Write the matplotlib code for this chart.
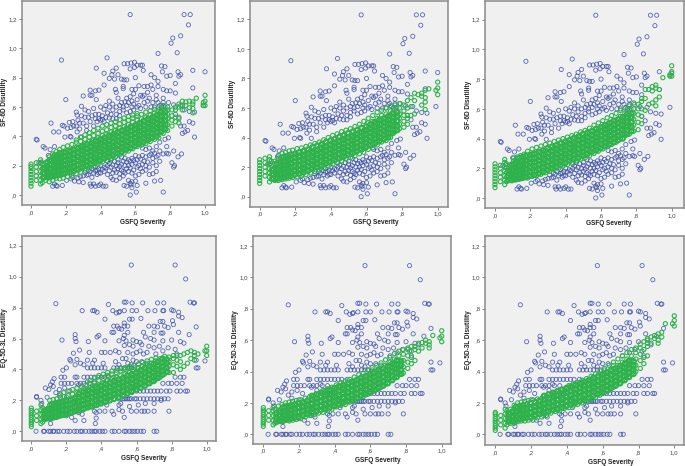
import matplotlib
matplotlib.use("Agg")
import matplotlib.pyplot as plt

plt.rcParams['font.family'] = ['Liberation Sans', 'DejaVu Sans']

W, H = 685, 466
BLUE = '#3d50a8'
GREEN = '#2fb24c'
TICK_X = [0, .2, .4, .6, .8, 1.0]
TICK_X_LABELS = [',0', ',2', ',4', ',6', ',8', '1,0']
TICK_Y = [0, .2, .4, .6, .8, 1.0, 1.2]
TICK_Y_LABELS = [',0', ',2', ',4', ',6', ',8', '1,0', '1,2']

sf6d_observed = [
    (.57,1.23),(.88,1.23),(.915,1.23),(.905,1.16),(.86,1.085),(.815,1.07),(.805,1.035),(.84,.97),(.73,.965),
    (.437,.935),(.175,.92),(.375,.865),(.93,.85),(1.0,.84),(.535,.895),(.555,.895),(.575,.90),(.595,.905),
    (.61,.885),(.63,.885),(.64,.885),(.57,.86),(.595,.87),(.645,.85),(.42,.83),(.47,.845),(.49,.865),(.465,.82),
    (.50,.82),(.48,.79),(.52,.79),(.535,.785),(.55,.785),(.45,.795),(.60,.80),(.69,.82),(.75,.88),(.77,.875),
    (.755,.84),(.73,.775),(.78,.81),(.80,.815),(.845,.84),(.86,.82),(.83,.76),(.85,.81),(.71,.80),(.69,.75),
    (.73,.74),(.67,.74),(.65,.74),(.62,.745),(.76,.72),(.78,.71),(.80,.71),(.83,.695),(.93,.73),(.34,.715),
    (.37,.71),(.39,.715),(.35,.68),(.375,.65),(.42,.75),(.485,.72),(.49,.70),(.53,.725),(.53,.74),(.58,.72),
    (.60,.72),(.59,.69),(.63,.68),(.65,.68),(.67,.70),(.70,.72),(.72,.68),(.76,.66),(.79,.63),(.82,.615),
    (.86,.61),(.88,.58),(.91,.57),(.94,.565),(.99,.61),(.93,.49),(.94,.395),(.86,.47),(.88,.47),(.885,.43),
    (.87,.42),(.90,.44),(.91,.50),(.83,.55),(.85,.52),(.34,.68),(.30,.675),(.20,.65),(.29,.605),(.26,.565),
    (.265,.545),(.31,.58),(.33,.57),(.36,.59),(.40,.60),(.42,.585),(.45,.60),(.47,.58),(.50,.66),(.52,.63),
    (.54,.635),(.56,.63),(.55,.61),(.58,.64),(.61,.65),(.62,.61),(.64,.67),(.66,.60),(.68,.66),(.70,.63),
    (.72,.65),(.74,.61),(.76,.63),(.77,.60),(.58,.60),(.51,.57),(.53,.58),(.49,.55),(.46,.55),(.44,.56),
    (.41,.54),(.39,.55),(.37,.55),(.35,.54),(.33,.53),(.31,.53),(.29,.54),(.27,.51),(.24,.50),(.23,.46),
    (.22,.495),(.21,.455),(.245,.47),(.28,.49),(.30,.49),(.32,.47),(.34,.50),(.36,.47),(.38,.50),(.40,.51),
    (.42,.50),(.19,.47),(.18,.475),(.115,.49),(.16,.43),(.13,.43),(.195,.395),(.225,.40),(.23,.395),(.265,.43),
    (.29,.395),(.32,.44),(.28,.45),(.26,.47),(.03,.38),(.035,.375),(.07,.33),(.08,.32),(.11,.31),(.135,.33),
    (.10,.27),(.045,.22),(.06,.225),(.125,.06),(.145,.065),(.18,.065),(.15,.06),(.095,.22),(.10,.145),(.135,.075),
    (.205,.10),(.23,.11),(.25,.095),(.27,.115),(.275,.09),(.24,.12),(.285,.125),(.30,.13),(.32,.135),(.30,.085),
    (.34,.075),(.36,.075),(.345,.06),(.40,.075),(.39,.065),(.415,.06),(.43,.06),(.37,.06),(.35,.12),(.38,.14),
    (.40,.15),(.38,.17),(.36,.15),(.34,.16),(.42,.16),(.44,.14),(.46,.12),(.47,.105),(.49,.10),(.51,.115),
    (.53,.13),(.55,.06),(.535,.065),(.57,.08),(.58,.09),(.60,.095),(.56,.10),(.575,.07),(.61,.065),(.58,.05),
    (.57,.0),(.605,.02),(.66,.08),(.71,.095),(.745,.10),(.76,.02),(.72,.16),(.70,.145),(.68,.14),(.66,.17),
    (.64,.16),(.62,.14),(.60,.13),(.58,.15),(.56,.16),(.54,.15),(.52,.17),(.50,.18),(.48,.17),(.46,.19),
    (.44,.20),(.42,.19),(.40,.20),(.39,.18),(.37,.19),(.35,.18),(.33,.17),(.50,.22),(.52,.21),(.54,.20),
    (.56,.20),(.58,.21),(.60,.22),(.62,.20),(.64,.21),(.66,.20),(.68,.19),(.70,.22),(.72,.20),(.74,.23),
    (.78,.285),(.79,.28),(.81,.22),(.82,.19),(.825,.20),(.845,.26),(.865,.28),(.82,.30),(.78,.33),(.77,.38),
    (.79,.39),(.74,.36),(.72,.33),(.70,.30),(.68,.27),(.66,.26),(.64,.27),(.62,.26),(.60,.27),(.58,.25),
    (.56,.24),(.54,.25),(.52,.26),(.50,.24),(.48,.23),(.46,.24),(.44,.23),(.76,.28),(.74,.30),(.72,.26),
    (.70,.25),(.68,.32),(.66,.31),(.64,.32),(.31,.155),(.33,.14),(.37,.165),(.39,.15),(.41,.175),(.43,.185),
    (.45,.165),(.47,.15),(.49,.155),(.51,.145),(.53,.16),(.55,.18),(.57,.185),(.59,.17),(.61,.19),(.63,.18),
    (.65,.23),(.67,.225),(.69,.28),(.71,.285),(.73,.27),(.55,.225),(.57,.23),(.59,.235),(.61,.24),(.63,.245),
    (.45,.215),(.47,.205),(.49,.20),(.51,.195),(.53,.23),(.43,.61),(.45,.64),(.47,.62),(.49,.60),(.51,.61),
    (.53,.60),(.55,.66),(.57,.67),(.59,.62),(.61,.60),(.63,.59),(.65,.63),(.67,.64),(.69,.60),(.71,.60),
    (.73,.63),(.75,.60),(.57,.57),(.59,.58),(.55,.56),(.37,.52),(.39,.52),(.41,.515),(.43,.53),(.45,.525),
    (.47,.52),(.49,.52),(.51,.54),
]

# observed EQ-5D-3L disutility, its levels show as rows (y, [x, ...])
eq5d_rows = [
    (0.0, [.027,.07,.075,.10,.11,.125,.13,.15,.16,.185,.205,.22,.245,.26,.28,.29,.31,.33,.345,.36,.37,.39,.405,.42,
           .46,.475,.50,.53,.54,.56,.575,.59,.605,.625,.64,.70,.715]),
    (.13, [.63,.645,.665,.70,.785,.57,.60]),
    (.21, [.47,.50,.52,.53,.54,.55,.56,.57,.59,.60,.62,.64,.66,.68,.70,.72,.74,.76,.78,.44,.42]),
    (.26, [.33,.36,.38,.40,.57,.60,.62,.64,.66,.68,.70,.72,.74,.77,.79,.83,.85,.88,.89]),
    (.31, [.17,.19,.21,.23,.26,.28,.30,.33,.36,.75,.78,.80,.83,.86]),
    (.35, [.17,.19,.25,.26,.30,.32,.34,.36,.38,.40,.42,.44,.47,.82,.85,.87]),
    (.41, [.20,.32,.34,.36,.38,.40,.42,.47,.49,.51,.53,.55,.57,.59,.61,.94,.95]),
]
eq5d_observed = [
    (.57,1.075),(.82,1.075),(.88,.985),(.14,.825),(.44,.82),(.53,.835),(.54,.835),(.575,.83),(.635,.83),(.72,.83),
    (.755,.83),(.905,.835),(.925,.83),(.93,.83),(.29,.78),(.35,.78),(.36,.78),(.375,.77),(.465,.78),(.485,.765),
    (.50,.77),(.505,.775),(.53,.78),(.60,.78),(.575,.78),(.665,.78),(.705,.78),(.75,.78),(.755,.78),(.80,.785),
    (.81,.78),(.84,.77),(.84,.745),(.86,.735),(.42,.725),(.56,.725),(.575,.725),(.53,.70),(.625,.73),(.805,.715),
    (.735,.71),(.75,.71),(.81,.69),(.67,.68),(.70,.68),(.72,.675),(.76,.68),(.78,.67),(.94,.675),(.47,.68),
    (.49,.68),(.50,.665),(.53,.68),(.55,.68),(.515,.66),(.46,.64),(.47,.64),(.53,.62),(.55,.64),(.64,.64),
    (.70,.64),(.74,.635),(.75,.635),(.84,.64),(.90,.625),(.25,.625),(.25,.60),(.255,.58),(.175,.59),(.325,.58),
    (.375,.61),(.385,.62),(.42,.585),(.50,.585),(.525,.60),(.54,.585),(.58,.59),(.60,.58),(.62,.575),(.65,.61),
    (.68,.60),(.70,.59),(.75,.585),(.80,.59),(.85,.58),(.87,.57),(.56,.56),(.58,.55),(.53,.555),(.63,.56),
    (.67,.55),(.70,.54),(.73,.55),(.78,.54),(.82,.53),(.275,.525),(.24,.505),(.33,.51),(.40,.51),(.42,.51),
    (.45,.51),(.48,.52),(.50,.51),(.55,.51),(.58,.50),(.60,.51),(.62,.52),(.64,.50),(.66,.51),(.71,.50),
    (.75,.52),(.83,.50),(.22,.465),(.225,.455),(.26,.465),(.32,.46),(.36,.46),(.48,.45),(.52,.47),(.54,.47),
    (.58,.46),(.60,.45),(.63,.45),(.66,.44),(.94,.46),(.99,.455),(.30,.43),(.25,.43),(.28,.44),(.35,.44),
    (.41,.44),(.50,.43),(.55,.44),(.57,.43),(.18,.395),(.13,.34),(.12,.32),(.11,.30),(.08,.28),(.10,.27),
    (.125,.29),(.03,.225),(.055,.20),(.06,.18),(.03,.22),(.09,.22),(.14,.25),(.16,.27),(.19,.28),(.22,.26),
    (.27,.30),(.30,.28),(.32,.32),(.16,.23),(.20,.22),(.24,.19),(.27,.12),(.29,.11),(.26,.14),(.28,.16),
    (.23,.09),(.25,.07),(.30,.07),(.36,.13),(.37,.12),(.37,.085),(.365,.05),(.39,.13),(.42,.13),(.46,.13),
    (.47,.11),(.50,.14),(.52,.13),(.53,.09),(.08,.09),(.11,.05),(.11,.08),(.16,.11),(.20,.10),(.34,.16),
    (.43,.17),(.50,.17),(.51,.18),(.56,.16),(.61,.17),(.65,.18),(.70,.18),(.74,.20),
]

# predicted values, one row per severity value (x, [y, ...])
green_sf_1 = [
    (0.0,[.06,.08,.10,.12,.14,.16,.18,.195,.21]),(.03,[.10,.13,.16,.19,.22]),(.055,[.075,.10,.13,.16,.19,.22,.24]),
    (.065,[.085,.12,.15,.18,.21]),(.085,[.10,.13,.16,.19,.22]),(.105,[.09,.12,.15,.18,.21,.24,.26]),
    (.125,[.10,.13,.16,.19,.22,.25,.28]),(.145,[.115,.145,.175,.205,.235,.265,.295]),(.165,[.11,.14,.17,.20,.23,.26,.29,.31]),
    (.185,[.115,.145,.175,.205,.235,.265,.295,.325]),(.21,[.125,.155,.185,.215,.245,.275,.305,.335]),
    (.235,[.13,.16,.19,.22,.25,.28,.31,.345]),(.26,[.145,.175,.205,.235,.265,.295,.325,.36,.375]),
    (.285,[.155,.185,.215,.245,.275,.305,.335,.365,.395]),(.31,[.17,.20,.23,.26,.29,.32,.35,.38,.41]),
    (.335,[.185,.215,.245,.275,.305,.335,.365,.395,.425]),(.36,[.195,.225,.255,.285,.315,.345,.375,.405,.44]),
    (.385,[.21,.24,.27,.30,.33,.36,.39,.42,.455]),(.41,[.225,.255,.285,.315,.345,.375,.405,.435,.47]),
    (.435,[.235,.265,.295,.325,.355,.385,.415,.445,.48]),(.46,[.25,.28,.31,.34,.37,.40,.43,.46,.49]),
    (.485,[.26,.29,.32,.35,.38,.41,.44,.47,.50]),(.51,[.275,.305,.335,.365,.395,.425,.455,.485,.515]),
    (.535,[.285,.315,.345,.375,.405,.435,.465,.495,.525]),(.56,[.30,.33,.36,.39,.42,.45,.48,.51,.535]),
    (.585,[.315,.345,.375,.405,.435,.465,.495,.525,.545]),(.61,[.33,.36,.39,.42,.45,.48,.51,.54,.555]),
    (.635,[.34,.37,.40,.43,.46,.49,.52,.55]),(.66,[.35,.38,.41,.44,.47,.50,.53,.565]),
    (.685,[.365,.395,.425,.455,.485,.515,.545,.575]),(.71,[.38,.41,.44,.47,.50,.53,.56,.585]),
    (.735,[.39,.42,.45,.48,.51,.54,.57,.60]),(.76,[.42,.46,.49,.52,.55,.58,.61]),(.785,[.44,.48,.52,.55,.58,.60]),
    (.81,[.47,.51,.54,.58]),(.83,[.50,.53,.58,.60]),(.85,[.49,.53,.60,.62]),(.87,[.58,.61,.64]),(.89,[.61,.635]),
    (.91,[.595,.64]),(.93,[.56,.59,.62,.635]),(.95,[.66]),(.99,[.61,.63]),(1.0,[.61,.64,.68]),
]
green_sf_2 = [
    (0.0,[.09,.11,.13,.15,.17,.19,.21,.23,.25]),(.03,[.14,.17,.20,.23,.26]),(.055,[.10,.13,.16,.19,.22,.25,.27]),
    (.065,[.12,.15,.18,.21,.24]),(.085,[.11,.14,.17,.20,.24]),(.105,[.11,.14,.17,.20,.23,.26,.28]),
    (.125,[.115,.145,.175,.205,.235,.265,.295]),(.145,[.12,.15,.18,.21,.24,.27,.30]),(.165,[.125,.155,.185,.215,.245,.275,.31]),
    (.185,[.13,.16,.19,.22,.25,.28,.315]),(.21,[.135,.165,.195,.225,.255,.285,.325]),
    (.235,[.14,.17,.20,.23,.26,.29,.33]),(.26,[.15,.18,.21,.24,.27,.30,.34]),
    (.285,[.16,.19,.22,.25,.28,.31,.35]),(.31,[.17,.20,.23,.26,.29,.32,.36]),
    (.335,[.18,.21,.24,.27,.30,.33,.37]),(.36,[.195,.225,.255,.285,.315,.345,.385]),
    (.385,[.205,.235,.265,.295,.325,.355,.40]),(.41,[.22,.25,.28,.31,.34,.37,.415]),
    (.435,[.23,.26,.29,.32,.35,.38,.425]),(.46,[.24,.27,.30,.33,.36,.39,.44]),
    (.485,[.255,.285,.315,.345,.375,.405,.45]),(.51,[.265,.295,.325,.355,.385,.415,.46]),
    (.535,[.275,.305,.335,.365,.395,.425,.475]),(.56,[.29,.32,.35,.38,.41,.44,.49]),
    (.585,[.30,.33,.36,.39,.42,.45,.51]),(.61,[.32,.35,.38,.41,.44,.47,.50,.53]),
    (.635,[.33,.36,.39,.42,.45,.48,.51,.55]),(.66,[.35,.38,.41,.44,.47,.50,.53,.57]),
    (.685,[.37,.40,.43,.46,.49,.52,.55,.585]),(.71,[.38,.41,.44,.47,.50,.53,.56,.60]),
    (.735,[.40,.43,.46,.49,.52,.55,.58,.615]),(.76,[.44,.47,.50,.53,.56,.59,.62]),(.785,[.46,.49,.53,.56,.60,.63]),
    (.81,[.47,.51,.55,.58,.62]),(.83,[.49,.53,.55,.60,.65]),(.85,[.55,.61,.67]),(.87,[.56,.65,.70]),(.89,[.69]),
    (.91,[.62,.68,.70]),(.93,[.59,.64,.67,.72]),(.95,[.73]),(.99,[.72]),(1.0,[.69,.735,.775]),
]
green_sf_3 = [
    (0.0,[.07,.09,.11,.13,.15,.17,.19,.21,.23]),(.03,[.11,.14,.17,.20,.22]),(.055,[.09,.12,.15,.18,.21,.24,.26]),
    (.065,[.11,.14,.17,.20,.23]),(.085,[.13,.16,.19,.22]),(.105,[.13,.16,.19,.22,.25,.27]),
    (.125,[.125,.155,.185,.215,.245,.275]),(.145,[.13,.16,.19,.22,.25,.285]),(.165,[.14,.17,.20,.23,.26,.295]),
    (.185,[.135,.165,.195,.225,.255,.285,.315]),(.21,[.145,.175,.205,.235,.265,.295,.33]),
    (.235,[.15,.18,.21,.24,.27,.30,.34]),(.26,[.16,.19,.22,.25,.28,.31,.35]),
    (.285,[.17,.20,.23,.26,.29,.32,.36]),(.31,[.18,.21,.24,.27,.30,.33,.37]),
    (.335,[.19,.22,.25,.28,.31,.34,.38]),(.36,[.20,.23,.26,.29,.32,.35,.39]),
    (.385,[.215,.245,.275,.305,.335,.365,.40]),(.41,[.225,.255,.285,.315,.345,.375,.41]),
    (.435,[.235,.265,.295,.325,.355,.385,.42]),(.46,[.25,.28,.31,.34,.37,.40,.43]),
    (.485,[.26,.29,.32,.35,.38,.41,.445]),(.51,[.27,.30,.33,.36,.39,.42,.455]),
    (.535,[.285,.315,.345,.375,.405,.435,.47]),(.56,[.30,.33,.36,.39,.42,.45,.49]),
    (.585,[.315,.345,.375,.405,.435,.465,.505]),(.61,[.33,.36,.39,.42,.45,.48,.52]),
    (.635,[.345,.375,.405,.435,.465,.495,.54]),(.66,[.36,.39,.42,.45,.48,.51,.555]),
    (.685,[.375,.405,.435,.465,.495,.525,.57]),(.71,[.40,.43,.46,.49,.52,.55,.59]),
    (.735,[.42,.45,.48,.51,.54,.57,.605]),(.76,[.43,.47,.50,.53,.56,.59,.62]),(.785,[.45,.49,.53,.57,.60,.64]),
    (.81,[.46,.51,.56,.60,.63]),(.83,[.50,.55,.60,.65,.67]),(.85,[.59,.67,.73]),(.87,[.63,.73]),(.89,[.64,.72,.75]),
    (.91,[.62,.66,.74,.76]),(.93,[.68,.73]),(.95,[.81]),(.99,[.82,.83]),(1.0,[.82,.85,.89]),
]
green_eq_1 = [
    (0.0,[.03,.045,.06,.075,.09,.105,.12,.135,.15]),(.03,[.07,.10,.13]),(.055,[.05,.08,.11,.14,.17]),
    (.065,[.06,.09,.12,.15]),(.085,[.08,.11,.14]),(.105,[.08,.11,.14,.17,.20]),
    (.125,[.085,.115,.145,.175,.205]),(.145,[.09,.12,.15,.18,.21]),(.165,[.10,.13,.16,.19,.22,.24]),
    (.185,[.105,.135,.165,.195,.225,.25]),(.21,[.11,.14,.17,.20,.23,.26]),
    (.235,[.12,.15,.18,.21,.24,.27]),(.26,[.13,.16,.19,.22,.25,.28]),
    (.285,[.14,.17,.20,.23,.26,.29]),(.31,[.15,.18,.21,.24,.27,.30]),
    (.335,[.16,.19,.22,.25,.28,.31,.33]),(.36,[.17,.20,.23,.26,.29,.32,.345]),
    (.385,[.18,.21,.24,.27,.30,.33,.36]),(.41,[.19,.22,.25,.28,.31,.34,.37]),
    (.435,[.21,.24,.27,.30,.33,.36,.38]),(.46,[.22,.25,.28,.31,.34,.37,.39]),
    (.485,[.23,.26,.29,.32,.35,.38,.395]),(.51,[.24,.27,.30,.33,.36,.39,.405]),
    (.535,[.25,.28,.31,.34,.37,.40,.41]),(.56,[.26,.29,.32,.35,.38,.41,.42]),
    (.585,[.275,.305,.335,.365,.395,.425]),(.61,[.29,.32,.35,.38,.41,.435]),
    (.635,[.30,.33,.36,.39,.42,.445]),(.66,[.31,.34,.37,.40,.43,.455]),
    (.685,[.32,.35,.38,.41,.44,.465]),(.71,[.335,.365,.395,.425,.455,.475]),
    (.735,[.35,.38,.41,.44,.47]),(.76,[.37,.40,.43,.46,.485]),(.785,[.38,.42,.45,.48]),
    (.81,[.38,.43,.47,.49]),(.83,[.42,.46,.49]),(.85,[.40,.45,.49]),(.87,[.42,.50]),(.89,[.44,.51]),
    (.91,[.47,.52]),(.93,[.46,.49,.51]),(.95,[.50]),(.99,[.52]),(1.0,[.49,.52,.55]),
]
green_eq_2 = [
    (0.0,[.05,.065,.08,.095,.11,.125,.14,.155,.17]),(.03,[.09,.12,.15]),(.055,[.06,.09,.12,.15,.17]),
    (.065,[.07,.10,.13,.16]),(.085,[.09,.12,.15,.18]),(.105,[.08,.11,.14,.17,.19]),
    (.125,[.09,.12,.15,.18,.20]),(.145,[.085,.115,.145,.175,.205]),(.165,[.09,.12,.15,.18,.21]),
    (.185,[.095,.125,.155,.185,.215]),(.21,[.10,.13,.16,.19,.22]),
    (.235,[.11,.14,.17,.20,.23]),(.26,[.12,.15,.18,.21,.24]),
    (.285,[.125,.155,.185,.215,.245]),(.31,[.135,.165,.195,.225,.255]),
    (.335,[.14,.17,.20,.23,.26,.28]),(.36,[.15,.18,.21,.24,.27,.29]),
    (.385,[.16,.19,.22,.25,.28,.30]),(.41,[.175,.205,.235,.265,.295,.315]),
    (.435,[.185,.215,.245,.275,.305,.33]),(.46,[.19,.22,.25,.28,.31,.34]),
    (.485,[.205,.235,.265,.295,.325,.35]),(.51,[.215,.245,.275,.305,.335,.365]),
    (.535,[.23,.26,.29,.32,.35,.38]),(.56,[.24,.27,.30,.33,.36,.39]),
    (.585,[.255,.285,.315,.345,.375,.41]),(.61,[.27,.30,.33,.36,.39,.425]),
    (.635,[.285,.315,.345,.375,.405,.44]),(.66,[.30,.33,.36,.39,.42,.455]),
    (.685,[.32,.35,.38,.41,.44,.475]),(.71,[.34,.37,.40,.43,.46,.49]),
    (.735,[.36,.39,.42,.45,.48,.515]),(.76,[.38,.41,.44,.47,.50,.53]),(.785,[.39,.43,.47,.51,.54]),
    (.81,[.42,.46,.50,.54,.55]),(.83,[.45,.49,.53,.56]),(.85,[.47,.54,.56]),(.87,[.53,.58]),(.89,[.55,.585]),
    (.91,[.58,.60]),(.93,[.55,.57,.59]),(.95,[.63]),(.99,[.615]),(1.0,[.59,.625,.66]),
]
green_eq_3 = [
    (0.0,[.025,.04,.055,.07,.085,.10,.115,.13,.14]),(.03,[.06,.09,.12]),(.055,[.04,.07,.10,.13,.16]),
    (.065,[.06,.09,.12,.15]),(.085,[.07,.10,.13,.16]),(.105,[.07,.10,.13,.16,.185]),
    (.125,[.08,.11,.14,.17,.20]),(.145,[.085,.115,.145,.175,.205]),(.165,[.085,.115,.145,.175,.21]),
    (.185,[.09,.12,.15,.18,.215]),(.21,[.09,.12,.15,.18,.22]),
    (.235,[.105,.135,.165,.195,.225]),(.26,[.11,.14,.17,.20,.23]),
    (.285,[.12,.15,.18,.21,.24]),(.31,[.135,.165,.195,.225,.25]),
    (.335,[.145,.175,.205,.235,.265]),(.36,[.15,.18,.21,.24,.27]),
    (.385,[.165,.195,.225,.255,.285]),(.41,[.17,.20,.23,.26,.29,.31]),
    (.435,[.18,.21,.24,.27,.30,.32]),(.46,[.19,.22,.25,.28,.31,.33]),
    (.485,[.20,.23,.26,.29,.32,.345]),(.51,[.21,.24,.27,.30,.33,.355]),
    (.535,[.22,.25,.28,.31,.34,.37]),(.56,[.235,.265,.295,.325,.355,.385]),
    (.585,[.25,.28,.31,.34,.37,.405]),(.61,[.265,.295,.325,.355,.385,.42]),
    (.635,[.28,.31,.34,.37,.40,.44]),(.66,[.30,.33,.36,.39,.42,.46]),
    (.685,[.32,.35,.38,.41,.44,.48]),(.71,[.34,.37,.40,.43,.46,.50]),
    (.735,[.36,.39,.42,.45,.48,.52]),(.76,[.38,.41,.44,.47,.50,.54]),(.785,[.40,.44,.48,.52,.55]),
    (.81,[.42,.47,.51,.55,.575]),(.83,[.45,.49,.54,.59]),(.85,[.50,.56,.60,.61]),(.87,[.58,.62]),(.89,[.61,.63]),
    (.91,[.58,.60,.64]),(.93,[.62,.65]),(.95,[.705]),(.99,[.705]),(1.0,[.69,.725,.755]),
]
# the dense middle of the band, where the rings run together
green_core_sf = [
    (.075,[.12,.15,.185]),(.095,[.12,.155,.19,.225]),(.115,[.125,.15,.18,.205,.235]),(.135,[.13,.16,.185,.215,.24,.27]),
    (.155,[.135,.165,.19,.22,.25,.275]),(.175,[.14,.17,.195,.225,.255,.285]),(.1975,[.15,.175,.21,.235,.265,.29]),
    (.2225,[.155,.18,.215,.24,.27,.30]),(.2475,[.165,.19,.225,.25,.28,.31]),(.2725,[.175,.205,.235,.26,.29,.32]),
    (.2975,[.19,.215,.245,.275,.30,.335]),(.3225,[.20,.225,.26,.285,.315,.345]),(.3475,[.21,.24,.27,.295,.33,.355]),
    (.3725,[.225,.25,.28,.31,.34,.37]),(.3975,[.235,.265,.295,.32,.35,.38]),(.4225,[.25,.275,.305,.335,.365,.39]),
    (.4475,[.26,.29,.32,.345,.375,.405]),(.4725,[.27,.30,.33,.36,.39,.415]),(.4975,[.285,.31,.34,.37,.40,.43]),
    (.5225,[.295,.325,.355,.38,.41,.44]),(.5475,[.31,.335,.365,.395,.425,.45]),(.5725,[.32,.35,.38,.41,.435,.465]),
    (.5975,[.335,.365,.39,.42,.45,.475]),(.6225,[.35,.375,.405,.435,.46,.49]),(.6475,[.36,.39,.42,.445,.475,.505]),
    (.6725,[.375,.40,.43,.46,.49,.52]),(.6975,[.39,.42,.445,.475,.505,.53]),(.7225,[.40,.43,.46,.49,.52,.545]),
    (.7475,[.43,.455,.485,.51,.54,.565]),(.7725,[.45,.48,.51,.54,.57]),
]
green_core_eq = [
    (.075,[.08,.105,.135]),(.095,[.085,.115,.145]),(.115,[.09,.12,.145,.175]),(.135,[.095,.125,.15,.18]),
    (.155,[.10,.13,.155,.185]),(.175,[.105,.135,.165,.19]),(.1975,[.11,.14,.17,.20]),(.2225,[.12,.15,.175,.205]),
    (.2475,[.13,.155,.185,.215]),(.2725,[.135,.165,.195,.22,.245]),(.2975,[.145,.175,.20,.23,.255]),
    (.3225,[.155,.18,.21,.24,.265]),(.3475,[.16,.19,.22,.25,.275]),(.3725,[.17,.20,.23,.255,.285]),
    (.3975,[.18,.21,.24,.265,.295]),(.4225,[.19,.22,.25,.275,.305]),(.4475,[.20,.23,.26,.285,.315]),
    (.4725,[.21,.24,.27,.295,.325]),(.4975,[.22,.25,.28,.31,.335]),(.5225,[.23,.26,.29,.32,.345]),
    (.5475,[.245,.27,.30,.33,.36]),(.5725,[.255,.285,.31,.34,.37]),(.5975,[.27,.295,.325,.355,.38]),
    (.6225,[.28,.31,.34,.365,.395]),(.6475,[.295,.325,.35,.38,.41]),(.6725,[.31,.34,.365,.395,.42]),
    (.6975,[.325,.355,.38,.41,.435]),(.7225,[.345,.37,.40,.425,.45]),(.7475,[.365,.39,.42,.445,.47]),
    (.7725,[.385,.41,.44,.465]),
]


def flat_rows(rows):
    x, y = [], []
    for xv, ys in rows:
        for yv in ys:
            x.append(xv)
            y.append(yv)
    return x, y


def eq_points():
    pts = list(eq5d_observed)
    for yv, xs in eq5d_rows:
        for xv in xs:
            pts.append((xv, yv))
    return pts


# left, right, top, bottom, x=0, x=1, y=0, y=1.2, pixels of the source picture
frames = [
    (21.5, 214.5, 1, 205, 31, 205, 195, 19),
    (250.3, 447.7, 1, 206.7, 259.7, 437.7, 196.7, 19.3),
    (485.3, 684, 1, 208.3, 495, 671.7, 198, 19.7),
    (21.5, 216, 236, 441, 31.3, 206.7, 431.3, 245.7),
    (253.3, 451, 236, 443.7, 263.3, 441.7, 434.3, 246),
    (485.3, 684, 236, 445, 495.3, 674.3, 434.3, 246),
]
y_titles = ['SF-6D Disutility'] * 3 + ['EQ-5D-3L Disutility'] * 3
green_sets = [green_sf_1, green_sf_2, green_sf_3, green_eq_1, green_eq_2, green_eq_3]
# where the axis titles sit: ylabel x, ylabel y, xlabel x, xlabel y
title_pos = [
    (5, 102, 143, 222), (232, 104, 376, 223), (469, 105, 609, 224),
    (5, 338, 144, 458), (235, 340, 378, 461), (468, 340, 611, 462),
]

fig = plt.figure(figsize=(W / 100, H / 100), dpi=100)

for i, (l, r, t, b, x0, x1, y0, y12) in enumerate(frames):
    ax = fig.add_axes([l / W, 1 - b / H, (r - l) / W, (b - t) / H])
    ax.set_facecolor('#f0f0f0')
    sx = x1 - x0
    sy = (y0 - y12) / 1.2
    ax.set_xlim((l - x0) / sx, (r - x0) / sx)
    ax.set_ylim((y0 - b) / sy, (y0 - t) / sy)

    pts = sf6d_observed if i < 3 else eq_points()
    ax.scatter([p[0] for p in pts], [p[1] for p in pts], s=9, facecolors='none',
               edgecolors=BLUE, linewidths=0.6, alpha=0.85, zorder=2)
    gx, gy = flat_rows(green_sets[i])
    ax.scatter(gx, gy, s=9, facecolors='none', edgecolors=GREEN, linewidths=0.8, zorder=3)
    cx, cy = flat_rows(green_core_sf if i < 3 else green_core_eq)
    ax.scatter(cx, cy, s=10, facecolors='none', edgecolors=GREEN, linewidths=1.5, zorder=3)

    ax.set_xticks(TICK_X)
    ax.set_xticklabels(TICK_X_LABELS)
    ax.set_yticks(TICK_Y)
    ax.set_yticklabels(TICK_Y_LABELS)
    ax.tick_params(length=2, width=0.5, color='#555555', labelsize=4.4, labelcolor='#444444', pad=1.5)
    for s in ax.spines.values():
        s.set_color('#8a8a8a')
        s.set_linewidth(1.1)

    yx, yy, xx, xy = title_pos[i]
    fig.text(yx / W, 1 - yy / H, y_titles[i], rotation=90, ha='center', va='center',
             fontsize=4.7, fontweight='bold', color='#222222')
    fig.text(xx / W, 1 - xy / H, 'GSFQ Severity', ha='center', va='center',
             fontsize=4.7, fontweight='bold', color='#222222')

fig.savefig('out.png', dpi=100)
